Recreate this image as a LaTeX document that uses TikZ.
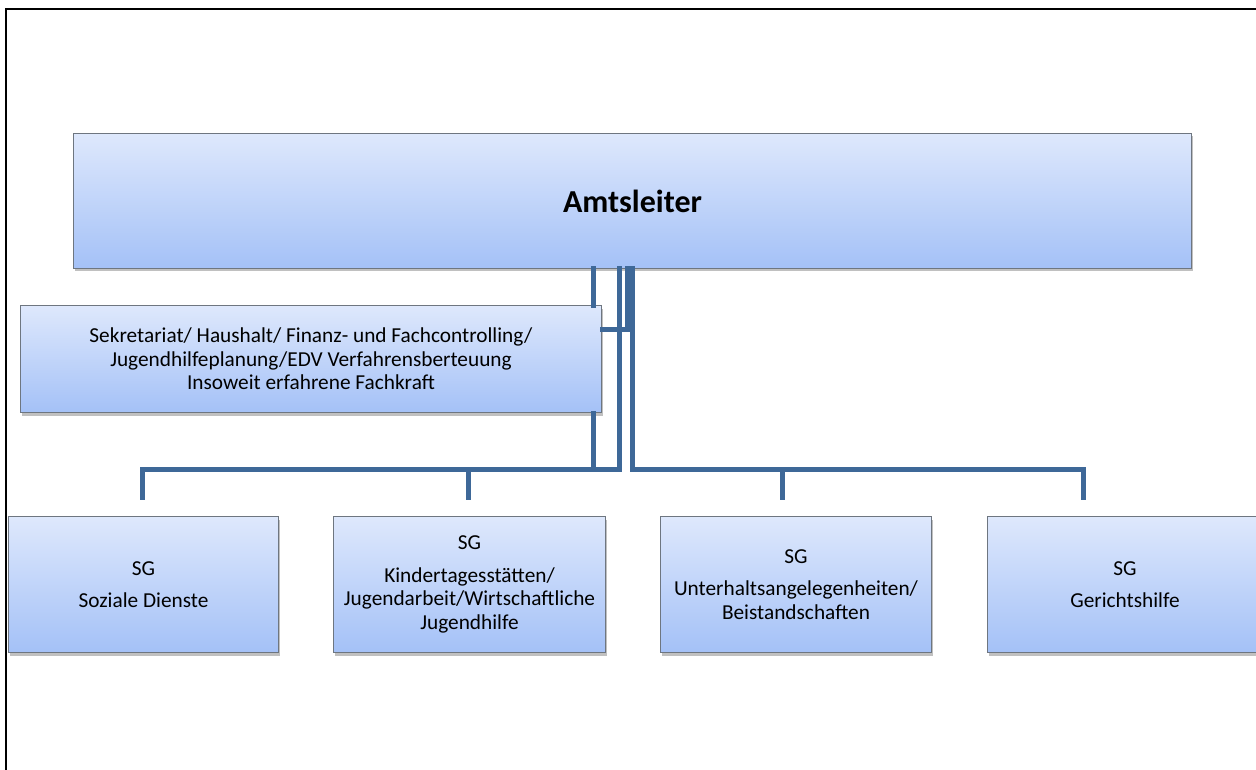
\documentclass[tikz,border=0pt]{standalone}
\usepackage{fontspec}
\setmainfont{Carlito}
\usetikzlibrary{shadows,calc}
\definecolor{boxtop}{RGB}{222,232,252}
\definecolor{boxbot}{RGB}{164,193,247}
\definecolor{boxedge}{RGB}{110,118,128}
\definecolor{conn}{RGB}{62,104,152}
\tikzset{
  orgbox/.style={draw=boxedge, line width=1pt, top color=boxtop, bottom color=boxbot,
    anchor=north west, inner sep=0pt, align=center,
    font=\fontsize{21.3}{23.5}\selectfont,
    drop shadow={shadow xshift=1pt, shadow yshift=-3pt, fill=black!55, opacity=0.45}},
  conline/.style={draw=conn, line width=5pt, line join=miter, line cap=rect},
}
\begin{document}
\begin{tikzpicture}[x=1pt,y=-1pt]
\useasboundingbox (0,0) rectangle (1256,770);
% frame
\draw[line width=2pt, black] (6,775) -- (6,9) -- (1262,9);

% coordinates for connector routing
\coordinate (xa) at (593,0);
\coordinate (xb) at (619,0);
\coordinate (xc) at (627,0);
\coordinate (xd) at (632,0);
\coordinate (busL) at (142,469);
\coordinate (busR) at (1083,469);
\coordinate (d1) at (142,497);
\coordinate (d2) at (468,497);
\coordinate (d3) at (782,497);
\coordinate (d4) at (1083,497);
\coordinate (j2) at (468,469);
\coordinate (j3) at (782,469);

\node[orgbox, minimum width=1118pt, minimum height=135pt, font=\fontsize{32}{38}\selectfont\bfseries] (A) at (73,133) {Amtsleiter};

% line behind the Sekretariat box
\draw[conline] (A.south -| xa) -- (busL -| xa);

\node[orgbox, minimum width=581pt, minimum height=107pt] (S) at (20,305)
  {Sekretariat/ Haushalt/ Finanz- und Fachcontrolling/\\Jugendhilfeplanung/EDV Verfahrensberteuung\\Insoweit erfahrene Fachkraft};

\draw[conline] (A.south -| xa) -- (S.north -| xa);
\draw[conline] (S.south -| xa) -- (busL -| xa);
\draw[conline] (A.south -| xb) -- (busL -| xb) -- (busL) -- (d1);
\draw[conline] (j2) -- (d2);
\draw[conline] (A.south -| xc) -- ($(A.south -| xc)+(0,60)$) -- ($(S.east |- A.south)+(0,60)$);
\draw[conline] (A.south -| xd) -- (busR -| xd) -- (busR) -- (d4);
\draw[conline] (j3) -- (d3);

\node[orgbox, minimum width=270pt, minimum height=136pt] (B1) at (8,516) {SG\\[9pt]Soziale Dienste};
\node[orgbox, minimum width=272pt, minimum height=136pt] (B2) at (333,516) {SG\\[9pt]Kindertagesstätten/\\Jugendarbeit/Wirtschaftliche\\Jugendhilfe};
\node[orgbox, minimum width=271pt, minimum height=136pt] (B3) at (660,516) {SG\\[9pt]Unterhaltsangelegenheiten/\\Beistandschaften};
\node[orgbox, minimum width=275pt, minimum height=136pt] (B4) at (987,516) {SG\\[9pt]Gerichtshilfe};
\end{tikzpicture}
\end{document}
